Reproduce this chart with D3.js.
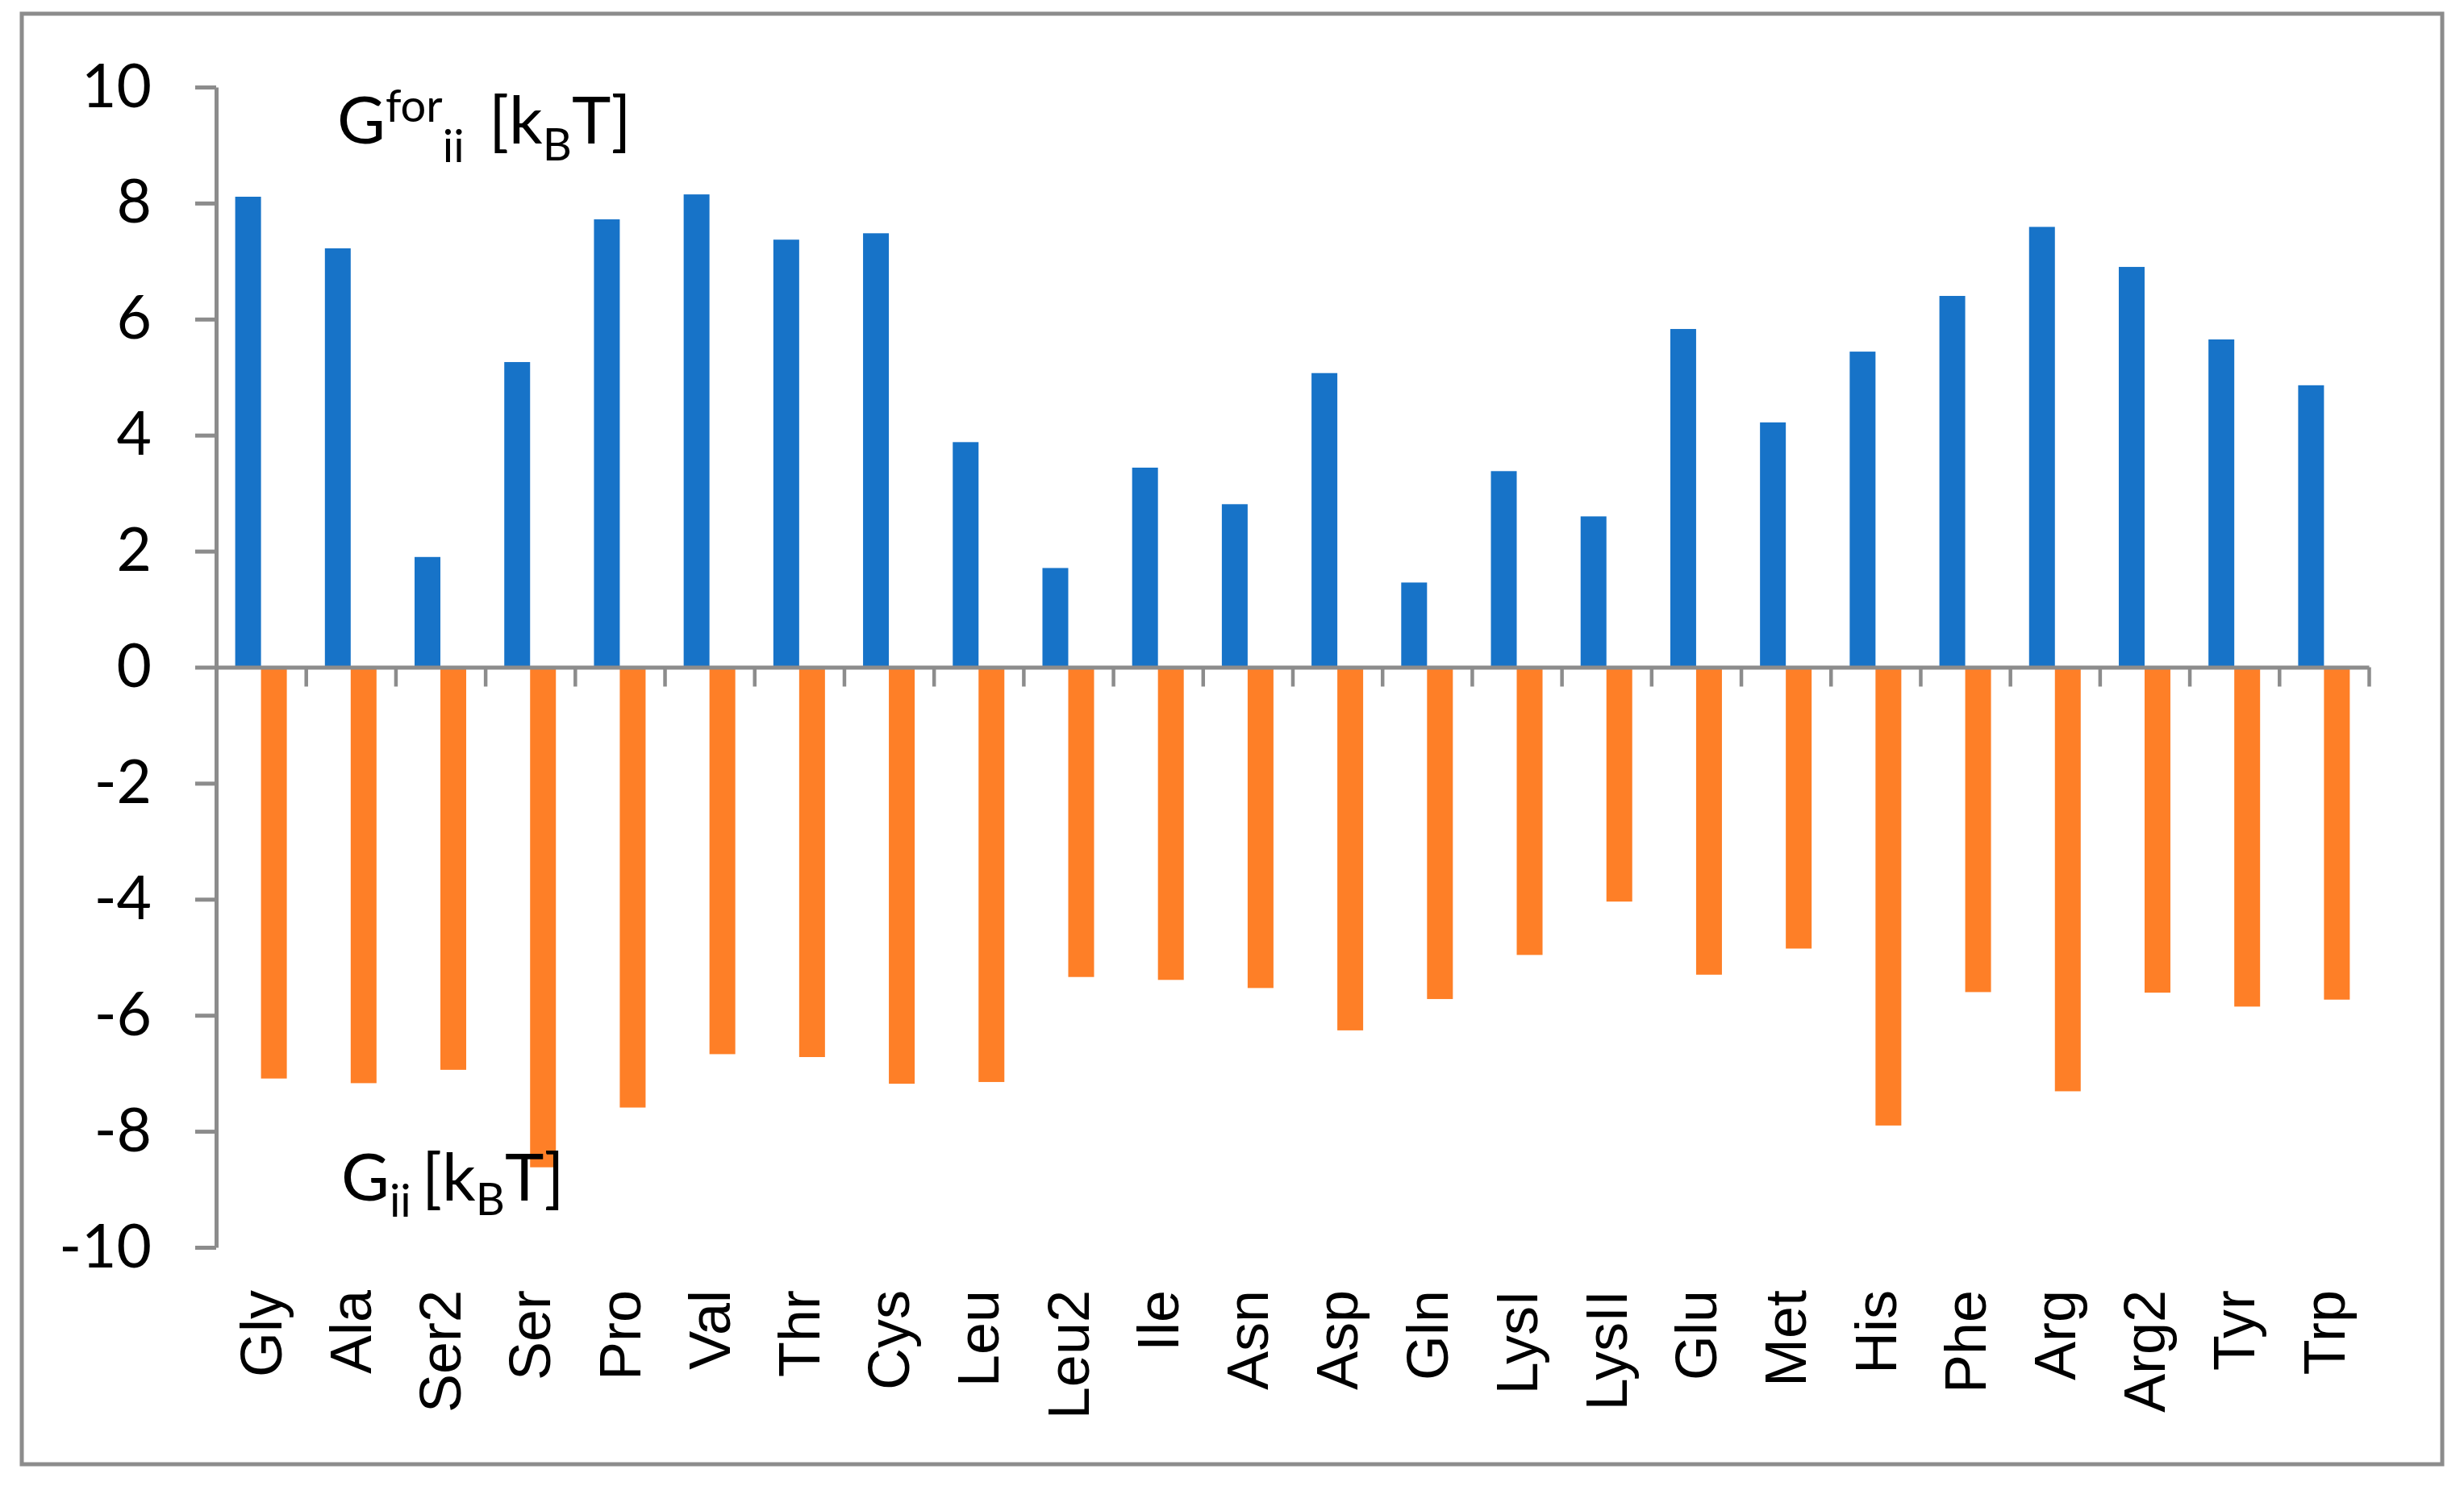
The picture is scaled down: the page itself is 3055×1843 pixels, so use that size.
<!DOCTYPE html>
<html>
<head>
<meta charset="utf-8">
<script src="https://cdn.jsdelivr.net/npm/d3@7.9.0/dist/d3.min.js"></script>
<style>
  body { margin: 0; background: #fff; }
  svg { display: block; }
</style>
</head>
<body>
<svg id="chart" width="3055" height="1843"></svg>
<script>
// residues along the x axis
const residues = ['Gly', 'Ala', 'Ser2', 'Ser', 'Pro', 'Val', 'Thr', 'Cys', 'Leu', 'Leu2', 'Ile', 'Asn',
  'Asp', 'Gln', 'LysI', 'LysII', 'Glu', 'Met', 'His', 'Phe', 'Arg', 'Arg2', 'Tyr', 'Trp'];

// G^for_ii [kBT]  (blue, upward)
const gFor = [8.11, 7.22, 1.90, 5.26, 7.72, 8.15, 7.37, 7.48, 3.88, 1.71, 3.44, 2.81,
  5.07, 1.46, 3.38, 2.60, 5.83, 4.22, 5.44, 6.40, 7.59, 6.90, 5.65, 4.86];

// G_ii [kBT]  (orange, downward)
const gII = [-7.09, -7.17, -6.94, -8.62, -7.59, -6.67, -6.72, -7.18, -7.15, -5.34, -5.39, -5.53,
  -6.26, -5.72, -4.96, -4.04, -5.30, -4.85, -7.90, -5.60, -7.31, -5.61, -5.85, -5.73];

const yTicks = [-10, -8, -6, -4, -2, 0, 2, 4, 6, 8, 10];

const W = 3055, H = 1843;
const plot = { left: 268, right: 2937, top: 108, bottom: 1547 };
const grey = '#8c8c8c';
const blue = '#1773c8';
const orange = '#fe7f27';

const svg = d3.select('#chart');

// outer frame
svg.append('rect')
  .attr('x', 27).attr('y', 17)
  .attr('width', W - 54).attr('height', H - 44)
  .attr('fill', '#fff')
  .attr('stroke', grey)
  .attr('stroke-width', 5);

const y = d3.scaleLinear().domain([-10, 10]).range([plot.bottom, plot.top]);
const x0 = d3.scaleBand().domain(residues).range([plot.left, plot.right]).padding(0);
const x1 = d3.scaleBand().domain(['for', 'ii']).range([0, x0.bandwidth()])
  .paddingInner(0).paddingOuter(0.7375);

// bars
const rows = residues.map((r, i) => ({ r, gFor: gFor[i], gII: gII[i] }));

const groups = svg.append('g').selectAll('g')
  .data(rows)
  .join('g')
  .attr('transform', d => `translate(${x0(d.r)},0)`);

groups.append('rect')
  .attr('x', x1('for'))
  .attr('width', x1.bandwidth())
  .attr('y', d => y(d.gFor))
  .attr('height', d => y(0) - y(d.gFor))
  .attr('fill', blue);

groups.append('rect')
  .attr('x', x1('ii'))
  .attr('width', x1.bandwidth())
  .attr('y', y(0))
  .attr('height', d => y(d.gII) - y(0))
  .attr('fill', orange);

// y axis (plain hyphen for negatives, like the original)
const yAxis = svg.append('g')
  .attr('transform', `translate(${plot.left},0)`)
  .call(d3.axisLeft(y).tickValues(yTicks).tickFormat(d => String(d))
    .tickSize(26).tickSizeOuter(0).tickPadding(54));
yAxis.select('.domain').attr('stroke', grey).attr('stroke-width', 5);
yAxis.selectAll('.tick line').attr('stroke', grey).attr('stroke-width', 5);
yAxis.selectAll('.tick text')
  .attr('fill', '#000')
  .style('font-family', 'Lato, sans-serif')
  .style('font-size', '75px');

// x axis (category boundaries)
const xIdx = d3.scaleLinear().domain([0, residues.length]).range([plot.left, plot.right]);
const xAxis = svg.append('g')
  .attr('transform', `translate(0,${y(0)})`)
  .call(d3.axisBottom(xIdx).tickValues(d3.range(1, residues.length + 1))
    .tickSize(24).tickSizeOuter(0).tickFormat(''));
xAxis.select('.domain').attr('stroke', grey).attr('stroke-width', 5);
xAxis.selectAll('.tick line').attr('stroke', grey).attr('stroke-width', 4.5);

// category labels, rotated
svg.append('g').selectAll('text')
  .data(residues)
  .join('text')
  .attr('transform', d => `translate(${x0(d) + x0.bandwidth() / 2},1600) rotate(-90)`)
  .attr('dy', '0.35em')
  .attr('text-anchor', 'end')
  .style('font-family', '"Liberation Sans", Arial, sans-serif')
  .style('font-size', '72px')
  .text(d => d);

// series labels
const big = 82, small = 56;
const lab1 = svg.append('text')
  .attr('x', 418).attr('y', 178)
  .style('font-family', 'Lato, sans-serif')
  .style('font-size', big + 'px');
lab1.append('tspan').text('G');
lab1.append('tspan').attr('dy', -27).style('font-size', small + 'px').text('for');
lab1.append('tspan').attr('dy', 50).style('font-size', small + 'px').text('ii');
lab1.append('tspan').attr('x', 606).attr('dy', -23).text('[k');
lab1.append('tspan').attr('dy', 21).style('font-size', small + 'px').text('B');
lab1.append('tspan').attr('dy', -21).text('T]');

const lab2 = svg.append('text')
  .attr('x', 423).attr('y', 1489)
  .style('font-family', 'Lato, sans-serif')
  .style('font-size', big + 'px');
lab2.append('tspan').text('G');
lab2.append('tspan').attr('dy', 20).style('font-size', small + 'px').text('ii');
lab2.append('tspan').attr('x', 523).attr('dy', -20).text('[k');
lab2.append('tspan').attr('dy', 18).style('font-size', small + 'px').text('B');
lab2.append('tspan').attr('dy', -18).text('T]');
</script>
</body>
</html>
